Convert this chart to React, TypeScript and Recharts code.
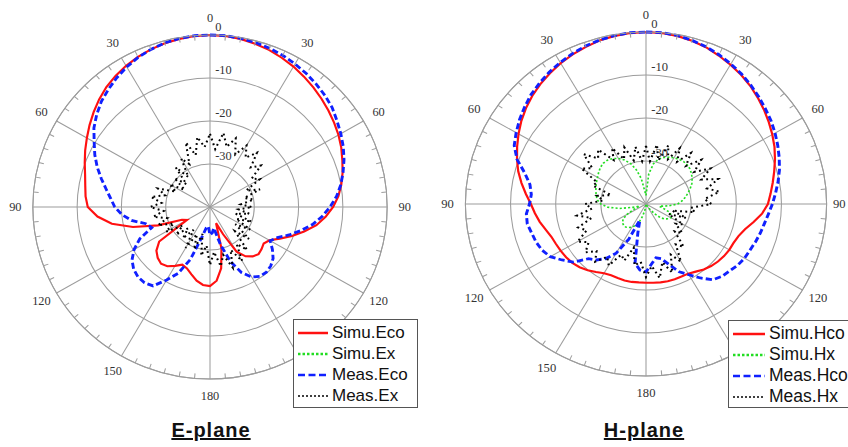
import React from 'react';
import { RadarChart, PolarGrid, PolarAngleAxis, PolarRadiusAxis, Radar } from 'recharts';

// ---------- data ----------
const ANGLES = [
  0, 5, 10, 15, 20, 25, 30, 35, 40, 45, 50, 55, 60, 65, 70, 75, 80, 85,
  90, 95, 100, 105, 110, 115, 120, 125, 130, 135, 140, 145, 150, 155, 160, 165, 170, 175,
  180, 185, 190, 195, 200, 205, 210, 215, 220, 225, 230, 235, 240, 245, 250, 255, 260, 265,
  270, 275, 280, 285, 290, 295, 300, 305, 310, 315, 320, 325, 330, 335, 340, 345, 350, 355,
];
const ANGLE_TICKS = [0, 30, 60, 90, 120, 150, 180, 210, 240, 270, 300, 330];
const RADIUS_TICKS = [-40, -30, -20, -10, 0];

// E-plane
const E_SIMU_CO = [
  0, -0.1, -0.3, -0.7, -1.1, -1.7, -2.3, -3.0, -3.7, -4.4, -5.1, -5.8, -6.5, -7.3, -8.2, -9.0, -9.9, -10.9,
  -12.2, -13.8, -15.6, -18.0, -20.3, -22.6, -24.5, -25.2, -24.8, -24.5, -25.0, -26.0, -28.0, -33.0, -36.0, -30.0, -25.5, -22.8,
  -21.6, -21.8, -22.6, -23.8, -24.8, -25.2, -24.2, -23.2, -22.8, -23.3, -24.2, -26.0, -34.0, -33.0, -27.5, -22.0, -17.5, -14.5,
  -12.4, -11.8, -11.4, -10.8, -9.9, -8.9, -7.9, -6.8, -5.7, -4.6, -3.6, -2.8, -2.1, -1.5, -1.0, -0.6, -0.3, -0.1,
];
const E_SIMU_X = [
  -40, -40, -40, -40, -40, -40, -40, -40, -40, -40, -40, -40, -40, -40, -40, -40, -40, -40,
  -40, -40, -40, -40, -40, -40, -40, -40, -40, -40, -40, -40, -40, -40, -40, -40, -40, -40,
  -40, -40, -40, -40, -40, -40, -40, -40, -40, -40, -40, -40, -40, -40, -40, -40, -40, -40,
  -40, -40, -40, -40, -40, -40, -40, -40, -40, -40, -40, -40, -40, -40, -40, -40, -40, -40,
];
const E_MEAS_CO = [
  0, 0, -0.2, -0.4, -0.7, -1.1, -1.6, -2.1, -2.7, -3.3, -4.0, -5.0, -5.9, -6.8, -7.8, -8.9, -10.0, -11.3,
  -12.9, -14.6, -16.5, -18.8, -21.0, -23.2, -24.3, -22.8, -21.4, -20.6, -20.2, -20.3, -21.2, -23.2, -26.5, -31.0, -35.0, -34.0,
  -33.5, -35.5, -35.0, -32.5, -27.0, -23.0, -20.4, -17.6, -17.0, -17.0, -17.5, -18.5, -20.2, -22.5, -26.0, -25.0, -22.0, -20.0,
  -18.5, -17.5, -16.2, -14.6, -12.9, -11.3, -9.8, -8.0, -6.6, -5.3, -4.3, -3.3, -2.4, -1.6, -1.0, -0.5, -0.2, 0,
];
const E_MEAS_X = [
  -23, -26.5, -22.5, -25.5, -23, -26.5, -23.5, -26, -23.5, -27, -25, -28.5, -27, -31, -28, -32, -30, -33,
  -30.5, -33.5, -31, -34, -30, -33.5, -29.5, -33, -28.5, -32, -27, -29.5, -25.5, -29, -25, -28.5, -26, -29.5,
  -26.5, -31, -28.5, -33.5, -29.5, -33, -29, -33.5, -30.5, -33, -30, -32.5, -28.5, -31, -27.5, -30, -27, -29.5,
  -26.5, -29, -26.5, -29.5, -27.5, -31.5, -29.5, -33, -29.5, -32.5, -28, -31.5, -27, -29, -24, -27.5, -23.5, -26,
];

// H-plane
const H_SIMU_CO = [
  0, -0.1, -0.3, -0.7, -1.2, -1.9, -2.6, -3.3, -4.1, -5.0, -5.9, -6.8, -7.7, -8.6, -9.6, -10.6, -11.5, -12.3,
  -13.0, -14.2, -15.8, -17.3, -18.2, -18.6, -18.7, -18.9, -19.2, -19.6, -20.1, -20.8, -21.3, -21.4, -21.4, -21.4, -21.5, -21.6,
  -21.7, -21.7, -21.6, -21.6, -21.7, -21.7, -21.4, -20.7, -19.9, -19.2, -18.7, -18.4, -18.2, -18.0, -17.7, -17.0, -16.1, -15.3,
  -14.5, -13.3, -12.0, -10.7, -9.6, -8.5, -7.4, -6.3, -5.3, -4.4, -3.6, -2.9, -2.2, -1.6, -1.1, -0.6, -0.3, -0.1,
];
const H_SIMU_X = [
  -38, -33, -30.5, -29.2, -28.5, -28, -27.6, -27.3, -27.1, -27.1, -27.3, -27.7, -28.2, -28.8, -29.6, -30.4, -31.2, -32,
  -33, -35, -37, -36, -34.5, -33.8, -33.6, -34, -34.6, -35.5, -37, -38.5, -39.5, -40, -40, -40, -40, -40,
  -40, -39.5, -38.5, -37, -35.5, -34.5, -33.8, -33.3, -33, -33, -33.2, -33.8, -35, -37, -38.5, -37, -34, -31.5,
  -30, -29.2, -28.8, -28.5, -28.2, -27.9, -27.6, -27.2, -26.8, -26.6, -26.7, -27.1, -27.8, -28.7, -30, -31.8, -34, -37,
];
const H_MEAS_CO = [
  0, 0, -0.2, -0.6, -1.1, -1.7, -2.4, -3.1, -3.9, -4.7, -5.5, -6.2, -7.0, -7.8, -8.6, -9.4, -10.3, -11.2,
  -12.0, -12.8, -13.4, -13.8, -14.2, -14.6, -14.8, -15.2, -15.8, -16.2, -17.0, -19.0, -21.0, -22.6, -25.0, -26.8, -27.3, -26.0,
  -24.2, -24.6, -26.0, -33.0, -36.0, -31.0, -26.8, -24.5, -23.0, -22.0, -19.0, -17.3, -15.5, -14.6, -14.1, -13.8, -13.3, -13.4,
  -14.2, -14.5, -13.9, -12.2, -9.6, -7.8, -6.8, -5.8, -4.9, -4.0, -3.3, -2.6, -2.0, -1.4, -0.9, -0.5, -0.2, 0,
];
const H_MEAS_X = [
  -26.5, -30, -26, -29.5, -25.5, -28.5, -25, -28, -24.5, -27.5, -24, -27, -23.5, -26.5, -23, -26, -23.5, -27,
  -25.5, -30, -29, -34, -30.5, -34.5, -30.5, -32, -29.5, -31, -27, -28.5, -24.5, -27, -23, -26, -22.5, -25.5,
  -23, -26.5, -25.5, -29.5, -26, -27, -23.5, -25, -22.5, -24.5, -22.5, -24.5, -22.5, -25.5, -24, -27.5, -24.5, -28,
  -26.5, -30.5, -29, -32, -27.5, -28, -23.5, -25.5, -22, -25, -23.5, -27.5, -25, -28.5, -26, -29.5, -26.5, -30,
];

const E_NAMES = ['Simu.Eco', 'Simu.Ex', 'Meas.Eco', 'Meas.Ex'];
const H_NAMES = ['Simu.Hco', 'Simu.Hx', 'Meas.Hco', 'Meas.Hx'];

// ---------- styles ----------
const SERIES_STYLE = [
  { key: 'simuCo', stroke: '#ff1010', width: 2.1, dash: undefined as string | undefined, legendWidth: 2.5, legendDash: undefined as string | undefined },
  { key: 'simuX', stroke: '#22dd22', width: 1.6, dash: '2 2', legendWidth: 2.5, legendDash: '2.5 2' },
  { key: 'measCo', stroke: '#1020ff', width: 2.8, dash: '6 3', legendWidth: 2.5, legendDash: '7 3.5' },
  { key: 'measX', stroke: '#000000', width: 2, dash: '1.8 3.2', legendWidth: 1.6, legendDash: '2 2' },
];
const GRID = '#9c9c9c';
const SERIF = '"Liberation Serif", "Times New Roman", serif';
const SANS = '"Liberation Sans", Arial, sans-serif';

function buildRows(co: number[], x: number[], mco: number[], mx: number[]) {
  return ANGLES.map((a, i) => ({ angle: a, simuCo: co[i], simuX: x[i], measCo: mco[i], measX: mx[i] }));
}

const E_ROWS = buildRows(E_SIMU_CO, E_SIMU_X, E_MEAS_CO, E_MEAS_X);
const H_ROWS = buildRows(H_SIMU_CO, H_SIMU_X, H_MEAS_CO, H_MEAS_X);

type PlotProps = {
  rows: any[];
  left: number;
  cx: number;
  cy: number;
  r: number;
  sx: number;
  rightInset: number;
};

function PolarPlot({ rows, left, cx, cy, r, sx, rightInset }: PlotProps) {
  const toRad = (deg: number) => (-deg * Math.PI) / 180;
  const angleTick = (props: any) => {
    const { payload } = props;
    const v = payload.value as number;
    const c = payload.coordinate as number;
    const a0 = toRad(c);
    const lx = cx + Math.cos(a0) * (r + 17) - (v === 90 ? rightInset : 0);
    const ly = cy + Math.sin(a0) * (r + 17);
    const minors = [1, 2, 3, 4, 5].map((k) => {
      const a = toRad(c - 5 * k);
      return (
        <line
          key={k}
          x1={cx + Math.cos(a) * r}
          y1={cy + Math.sin(a) * r}
          x2={cx + Math.cos(a) * (r - 5)}
          y2={cy + Math.sin(a) * (r - 5)}
          stroke={GRID}
          strokeWidth={1}
        />
      );
    });
    const label = v <= 180 ? v : 360 - v;
    return (
      <g>
        {minors}
        <text x={lx} y={ly} textAnchor="middle" dominantBaseline="central" fontFamily={SERIF} fontSize={12} fill="#333">
          {label}
        </text>
      </g>
    );
  };
  const radiusTick = (props: any) => {
    const { x, y, payload } = props;
    if (payload.value === -40) return <g />;
    return (
      <text x={x + 5} y={y - 4} textAnchor="start" fontFamily={SERIF} fontSize={12} fill="#333">
        {payload.value}
      </text>
    );
  };
  return (
    <div
      style={{
        position: 'absolute',
        left,
        top: 0,
        width: 424,
        height: 420,
        transform: `scaleX(${sx})`,
        transformOrigin: `${cx}px ${cy}px`,
      }}
    >
      <RadarChart
        width={424}
        height={420}
        data={rows}
        cx={cx}
        cy={cy}
        innerRadius={0}
        outerRadius={r}
        startAngle={90}
        endAngle={-270}
        margin={{ top: 0, right: 0, bottom: 0, left: 0 }}
      >
        <PolarGrid gridType="circle" stroke={GRID} strokeWidth={1} />
        <PolarAngleAxis
          dataKey="angle"
          type="number"
          domain={[0, 360]}
          ticks={ANGLE_TICKS}
          tick={angleTick}
          tickLine={false}
          axisLine={{ stroke: GRID }}
          axisLineType="circle"
        />
        <PolarRadiusAxis
          angle={90}
          type="number"
          domain={[-40, 0]}
          ticks={RADIUS_TICKS}
          tick={radiusTick}
          axisLine={false}
          tickLine={false}
        />
        {SERIES_STYLE.map((s) => (
          <Radar
            key={s.key}
            dataKey={s.key}
            stroke={s.stroke}
            strokeWidth={s.width}
            strokeDasharray={s.dash}
            fill="none"
            fillOpacity={0}
            dot={false}
            isAnimationActive={false}
          />
        ))}
      </RadarChart>
    </div>
  );
}

type LegendProps = {
  names: string[];
  left: number;
  top: number;
  width: number;
  height: number;
  fontSize: number;
  lineW: number;
};

function LegendBox({ names, left, top, width, height, fontSize, lineW }: LegendProps) {
  return (
    <div
      style={{
        position: 'absolute',
        left,
        top,
        width,
        height,
        boxSizing: 'border-box',
        border: '1.5px solid #555',
        background: '#fff',
        paddingTop: 2,
        paddingLeft: 4,
      }}
    >
      {names.map((n, i) => {
        const s = SERIES_STYLE[i];
        return (
          <div key={n} style={{ display: 'flex', alignItems: 'center', height: 21 }}>
            <svg width={lineW} height={6} style={{ flex: 'none' }}>
              <line x1={0} y1={3} x2={lineW} y2={3} stroke={s.stroke} strokeWidth={s.legendWidth} strokeDasharray={s.legendDash} />
            </svg>
            <span style={{ marginLeft: 4, fontFamily: SANS, fontSize, color: '#111', whiteSpace: 'nowrap', lineHeight: '21px' }}>{n}</span>
          </div>
        );
      })}
    </div>
  );
}

function Title({ text, cx }: { text: string; cx: number }) {
  return (
    <div
      style={{
        position: 'absolute',
        left: cx - 60,
        top: 419,
        width: 120,
        textAlign: 'center',
        fontFamily: SANS,
        fontWeight: 'bold',
        fontSize: 20,
        letterSpacing: 1,
        textDecoration: 'underline',
        color: '#111',
        lineHeight: '22px',
      }}
    >
      {text}
    </div>
  );
}

export default function App() {
  return (
    <div
      style={{
        position: 'absolute',
        left: 0,
        top: 0,
        width: 848,
        height: 447,
        overflow: 'hidden',
        background: '#fff',
      }}
    >
      <PolarPlot rows={E_ROWS} left={0} cx={210} cy={207} r={172} sx={1.03} rightInset={0} />
      <PolarPlot rows={H_ROWS} left={424} cx={222} cy={204} r={172} sx={1.05} rightInset={5} />
      <LegendBox names={E_NAMES} left={293} top={319} width={125} height={89} fontSize={17} lineW={30} />
      <LegendBox names={H_NAMES} left={728} top={320} width={130} height={88} fontSize={17.5} lineW={32} />
      <Title text="E-plane" cx={211} />
      <Title text="H-plane" cx={644} />
    </div>
  );
}
